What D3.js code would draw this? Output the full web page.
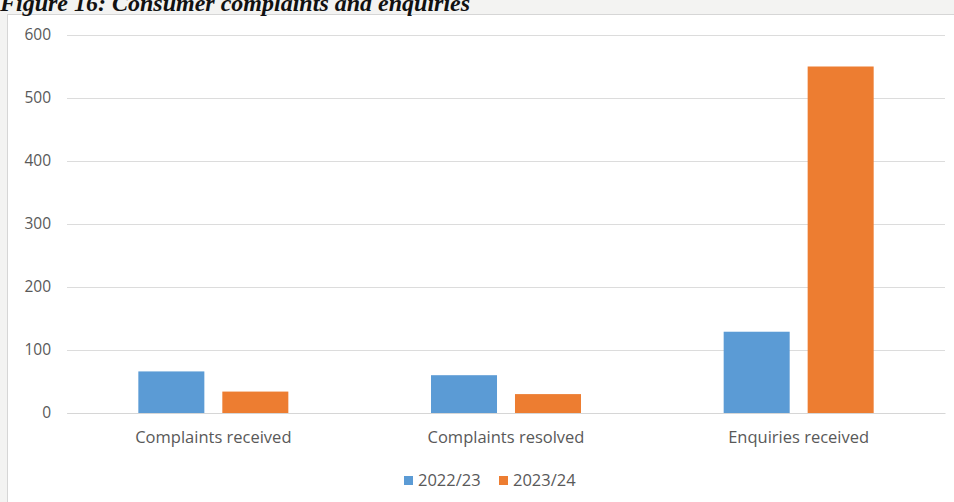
<!DOCTYPE html>
<html>
<head>
<meta charset="utf-8">
<script src="https://cdn.jsdelivr.net/npm/d3@7"></script>
<style>
  html, body { margin: 0; padding: 0; background: #f4f4f3; }
  svg { display: block; }
</style>
</head>
<body>
<svg id="chart" width="954" height="502"></svg>
<script>
// Chart data
const categories = ["Complaints received", "Complaints resolved", "Enquiries received"];
const seriesNames = ["2022/23", "2023/24"];
const values2022 = [66, 60, 129];
const values2023 = [34, 30, 550];
const yTicks = [0, 100, 200, 300, 400, 500, 600];
const colors = ["#5b9bd5", "#ed7d31"];

const series = [values2022, values2023];
const svg = d3.select("#chart");
const W = 954, H = 502;
const margin = { left: 67, right: 9, top: 35, bottom: 89 };

// Page background and chart frame
svg.append("rect").attr("x", 0).attr("y", 0).attr("width", W).attr("height", H).attr("fill", "#f3f3f2");
svg.append("rect").attr("x", 7.5).attr("y", 14.5).attr("width", W).attr("height", H)
  .attr("fill", "#ffffff").attr("stroke", "#d6d6d6").attr("stroke-width", 1);

// Title sits at the top edge of the page, partly above the frame
svg.append("text")
  .attr("x", 0).attr("y", 11)
  .attr("font-family", "'Liberation Serif', 'DejaVu Serif', serif")
  .attr("font-style", "italic").attr("font-weight", "bold")
  .attr("font-size", 24).attr("fill", "#111")
  .text("Figure 16: Consumer complaints and enquiries");

const groupWidth = 150;
const x = d3.scaleBand().domain(categories)
  .range([margin.left, W - margin.right]).paddingInner(0).paddingOuter(0);
const x1 = d3.scaleBand().domain(seriesNames)
  .range([0, groupWidth]).paddingInner(0.214);
const y = d3.scaleLinear().domain([0, 600]).range([H - margin.bottom, margin.top]);

const font = "'Open Sans', 'Noto Sans', sans-serif";

// Y axis with gridlines
const yAxis = d3.axisLeft(y).tickValues(yTicks).tickSize(-(W - margin.left - margin.right)).tickPadding(16);
const gy = svg.append("g").attr("transform", `translate(${margin.left},0)`).call(yAxis);
gy.select(".domain").remove();
gy.selectAll(".tick line").attr("stroke", "#dcdcdc").attr("stroke-width", 1);
gy.selectAll(".tick text").attr("fill", "#595959").attr("font-family", font).attr("font-size", 15.5);

// Bars
categories.forEach((c, i) => {
  const gx = x(c) + (x.bandwidth() - groupWidth) / 2;
  seriesNames.forEach((s, j) => {
    const v = series[j][i];
    svg.append("rect")
      .attr("x", gx + x1(s))
      .attr("y", y(v))
      .attr("width", x1.bandwidth())
      .attr("height", y(0) - y(v))
      .attr("fill", colors[j]);
  });
});

// X axis labels
const xAxis = d3.axisBottom(x).tickSize(0).tickPadding(18);
const gx = svg.append("g").attr("transform", `translate(0,${y(0)})`).call(xAxis);
gx.select(".domain").attr("stroke", "#d6d6d6");
gx.selectAll(".tick text").attr("fill", "#595959").attr("font-family", font).attr("font-size", 16.5);

// Legend
const legend = svg.append("g").attr("transform", "translate(404,480)");
const lx = [0, 95];
seriesNames.forEach((s, j) => {
  const g = legend.append("g").attr("transform", `translate(${lx[j]},0)`);
  g.append("rect").attr("x", 0).attr("y", -4).attr("width", 9).attr("height", 9).attr("fill", colors[j]);
  g.append("text").attr("x", 14).attr("y", 0).attr("dy", "0.35em")
    .attr("fill", "#595959").attr("font-family", font).attr("font-size", 16.5).text(s);
});
</script>
</body>
</html>
